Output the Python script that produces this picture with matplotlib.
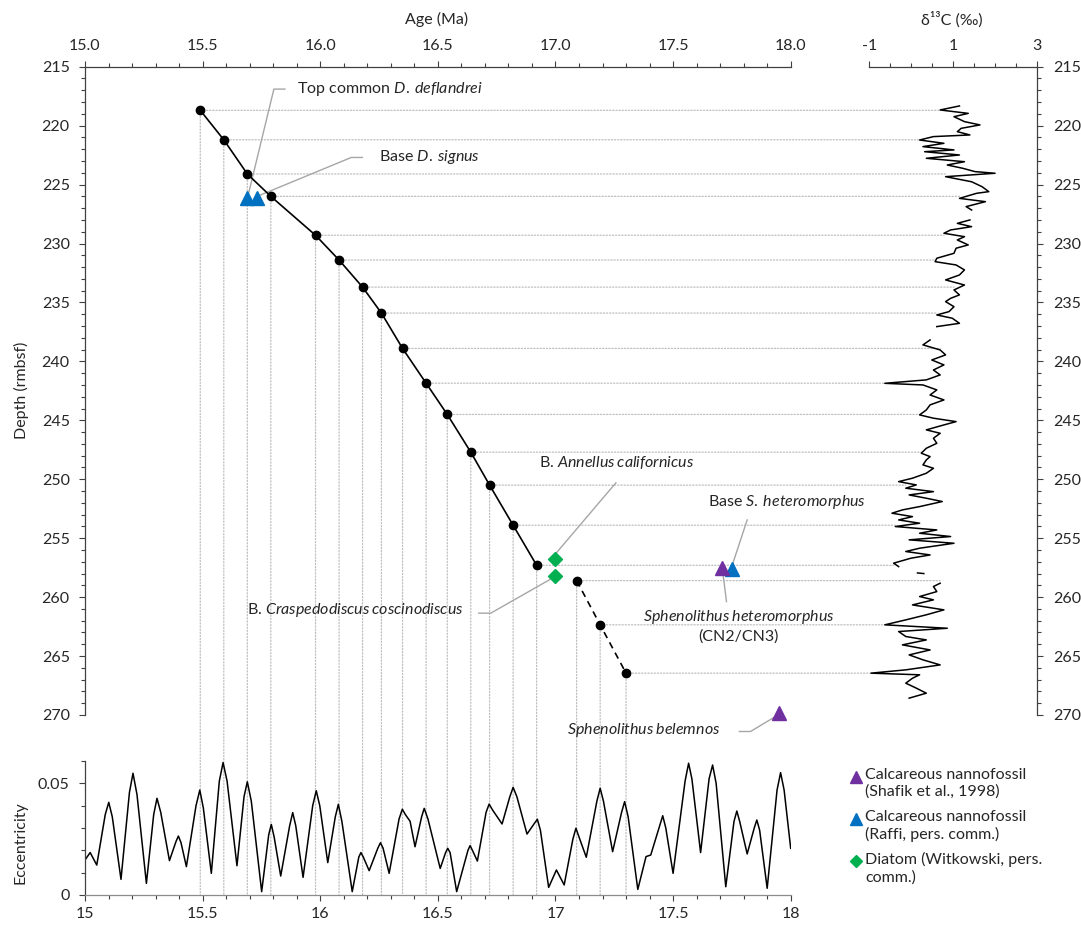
#! /usr/bin/env python3

import matplotlib.pyplot as plt
import numpy as np
from matplotlib.patches import ConnectionPatch
from matplotlib.lines import Line2D
from matplotlib.ticker import MultipleLocator, FixedLocator, FormatStrFormatter

plt.rcParams['font.family'] = ['Lato', 'DejaVu Sans']
plt.rcParams['mathtext.fontset'] = 'custom'
plt.rcParams['mathtext.rm'] = 'Lato'
plt.rcParams['mathtext.it'] = 'Lato:italic'
plt.rcParams['text.color'] = '#262626'
FS = 11.5

# age-depth tie points (Ma, rmbsf)
tie_age = [15.49, 15.59, 15.69, 15.79, 15.98, 16.08, 16.18, 16.26, 16.35, 16.45,
           16.54, 16.64, 16.72, 16.82, 16.92, 17.09, 17.19, 17.30]
tie_depth = [218.7, 221.2, 224.1, 226.0, 229.3, 231.4, 233.7, 235.9, 238.9, 241.85,
             244.5, 247.7, 250.5, 253.9, 257.3, 258.6, 262.35, 266.45]
n_solid = 15

# biostratigraphic events
shafik_age = [17.71, 17.95]
shafik_depth = [257.5, 269.8]
raffi_age = [15.69, 15.73, 17.75]
raffi_depth = [226.1, 226.1, 257.6]
diatom_age = [17.0, 17.0]
diatom_depth = [256.8, 258.2]

# bulk carbon isotopes, nan marks core gaps
d13c_depth = [218.33, 218.67, 218.96, 219.24, 219.66, 219.94, 220.23, 220.51, 220.79, 220.93,
              221.22, 221.5, 221.78, 222.06, 222.21, 222.49, 222.77, 223.06, 223.34, 223.62,
              223.9, 224.04, 224.33, 224.76, 225.18, 225.6, 225.74, 226.17, 226.45, 226.87,
              227.16, 227.5,
              228.0, 228.29, 228.57, 228.85, 229.13, 229.42, 229.7, 230.12, 230.4, 230.83,
              231.25, 231.54, 231.82, 232.24, 232.67, 233.09, 233.52, 233.94, 234.36, 234.65,
              234.93, 235.36, 235.78, 236.06, 236.34, 236.77, 237.05, 237.5,
              238.18, 238.6, 239.03, 239.45, 239.88, 240.3, 240.73, 241.15, 241.57, 241.86,
              242.0, 242.42, 242.85, 243.27, 243.69, 244.12, 244.54, 244.82, 245.11, 245.39,
              245.81, 246.1, 246.52, 246.95, 247.37, 247.79, 248.08, 248.36, 248.78, 249.07,
              249.49, 249.91, 250.2, 250.48, 250.76, 251.05, 251.33, 251.61, 251.89, 252.32,
              252.6, 252.88, 253.17, 253.45, 253.73, 254.01, 254.3, 254.58, 254.86, 255.14,
              255.43, 255.85, 256.13, 256.42, 256.7, 257.12, 257.41, 257.6,
              257.95, 258.0, 258.2,
              258.82, 259.1, 259.53, 259.95, 260.23, 260.66, 261.08, 261.5, 261.93, 262.35,
              262.64, 262.92, 263.34, 263.63, 264.05, 264.48, 264.9, 265.32, 265.75, 266.17,
              266.45, 266.59, 266.88, 267.3, 267.72, 268.15, 268.57]
d13c_value = [1.15, 0.69, 1.36, 1.02, 1.27, 1.64, 1.19, 1.10, 1.40, 0.53,
              0.20, 0.78, 0.28, 1.02, 0.32, 1.15, 0.36, 1.27, 0.86, 1.23,
              1.52, 2.00, 0.82, 1.44, 1.69, 1.85, 1.56, 1.15, 1.77, 1.31,
              1.44, np.nan,
              1.40, 1.10, 1.44, 0.94, 0.78, 1.27, 1.10, 1.36, 1.07, 1.02,
              0.61, 0.57, 1.07, 1.27, 1.15, 0.82, 1.27, 1.02, 1.15, 0.94,
              0.82, 1.02, 0.90, 0.61, 0.98, 1.15, 0.61, np.nan,
              0.45, 0.28, 0.69, 0.82, 0.49, 0.78, 0.53, 0.69, 0.36, -0.63,
              0.28, 0.61, 0.45, 0.78, 0.45, 0.36, 0.20, 0.53, 1.07, 0.78,
              0.36, 0.69, 0.53, 0.61, 0.36, 0.24, 0.45, 0.36, 0.28, 0.53,
              0.36, 0.03, -0.30, 0.12, -0.13, 0.53, -0.05, 0.36, 0.74, 0.20,
              -0.21, -0.46, 0.03, -0.30, 0.20, -0.38, 0.61, 0.20, 0.94, -0.05,
              1.02, 0.20, -0.13, 0.45, -0.01, -0.42, -0.30, np.nan,
              0.15, 0.30, np.nan,
              0.69, 0.53, 0.61, 0.20, 0.53, 0.03, 0.78, 0.36, -0.13, -0.63,
              0.86, -0.30, -0.13, 0.36, -0.21, 0.45, -0.05, 0.28, 0.69, -0.13,
              -0.96, 0.20, 0.03, -0.13, 0.12, 0.36, -0.05]

# orbital eccentricity solution
ecc_age = [15.0, 15.022, 15.05, 15.086, 15.101, 15.116, 15.153, 15.189, 15.204, 15.221,
           15.261, 15.292, 15.306, 15.322, 15.359, 15.387, 15.397, 15.408, 15.431, 15.472,
           15.488, 15.503, 15.537, 15.571, 15.587, 15.604, 15.646, 15.676, 15.69, 15.707,
           15.751, 15.781, 15.792, 15.804, 15.832, 15.870, 15.883, 15.896, 15.927, 15.968,
           15.983, 15.998, 16.032, 16.064, 16.077, 16.092, 16.136, 16.164, 16.173, 16.183,
           16.208, 16.245, 16.256, 16.267, 16.293, 16.335, 16.349, 16.362, 16.382, 16.403,
           16.431, 16.442, 16.458, 16.51, 16.533, 16.542, 16.552, 16.58, 16.628, 16.637,
           16.647, 16.668, 16.705, 16.718, 16.733, 16.773, 16.806, 16.82, 16.836, 16.879,
           16.91, 16.923, 16.936, 16.971, 17.004, 17.037, 17.074, 17.087, 17.1, 17.131,
           17.176, 17.19, 17.204, 17.243, 17.281, 17.294, 17.309, 17.35, 17.385, 17.405,
           17.443, 17.456, 17.469, 17.5, 17.551, 17.566, 17.58, 17.617, 17.653, 17.668,
           17.683, 17.724, 17.759, 17.771, 17.783, 17.815, 17.845, 17.856, 17.868, 17.9,
           17.942, 17.957, 17.972, 18.0]
ecc_value = [0.0157, 0.019, 0.0134, 0.036, 0.0415, 0.035, 0.007, 0.046, 0.0545, 0.045,
             0.0052, 0.036, 0.0433, 0.037, 0.0154, 0.024, 0.0264, 0.0235, 0.0127, 0.040,
             0.047, 0.039, 0.0097, 0.051, 0.0593, 0.051, 0.0131, 0.044, 0.0507, 0.042,
             0.0015, 0.027, 0.0316, 0.026, 0.0085, 0.031, 0.0369, 0.031, 0.0079, 0.040,
             0.0467, 0.040, 0.0145, 0.035, 0.0406, 0.033, 0.0015, 0.017, 0.019, 0.017,
             0.0109, 0.021, 0.0234, 0.021, 0.0097, 0.034, 0.0384, 0.036, 0.033, 0.0216,
             0.035, 0.0388, 0.034, 0.0119, 0.019, 0.0209, 0.019, 0.0015, 0.020, 0.0221,
             0.020, 0.0152, 0.037, 0.0407, 0.038, 0.0318, 0.044, 0.0482, 0.044, 0.0273,
             0.032, 0.0339, 0.029, 0.0034, 0.0112, 0.0045, 0.025, 0.0299, 0.026, 0.0169,
             0.042, 0.0478, 0.042, 0.0194, 0.037, 0.0418, 0.035, 0.0025, 0.0172, 0.0179,
             0.031, 0.0355, 0.030, 0.0097, 0.051, 0.059, 0.052, 0.019, 0.052, 0.0582,
             0.050, 0.0037, 0.033, 0.0376, 0.033, 0.0184, 0.030, 0.0336, 0.029, 0.003,
             0.047, 0.0548, 0.047, 0.0209]

purple = '#7030A0'
blue = '#0070C0'
green = '#00B050'
grid = '#BFBFBF'
leader = '#A6A6A6'
axis_col = '#404040'

W, H = 1081, 926
fig = plt.figure(figsize=(W / 100, H / 100), dpi=100)


def box(l, t, r, b):
    return [l / W, 1 - b / H, (r - l) / W, (b - t) / H]


ax = fig.add_axes(box(85, 66.7, 790.7, 715))
axc = fig.add_axes(box(869.3, 66.7, 1037, 715))
axe = fig.add_axes(box(85, 761, 790.7, 895))
for a in (ax, axc, axe):
    a.patch.set_visible(False)
    for s in a.spines.values():
        s.set_color(axis_col)
        s.set_linewidth(0.9)
    a.tick_params(which='both', direction='out', color=axis_col, labelcolor='#262626',
                  width=0.8, labelsize=FS)
    a.tick_params(which='major', length=4)
    a.tick_params(which='minor', length=3)

# age-depth plot
ax.set_xlim(15, 18)
ax.set_ylim(270, 215)
ax.xaxis.tick_top()
ax.spines[['right', 'bottom']].set_visible(False)
ax.xaxis.set_major_locator(MultipleLocator(0.5))
ax.xaxis.set_minor_locator(MultipleLocator(0.1))
ax.xaxis.set_major_formatter(FormatStrFormatter('%.1f'))
ax.yaxis.set_major_locator(MultipleLocator(5))
ax.yaxis.set_minor_locator(MultipleLocator(1))
ax.tick_params(axis='x', pad=6)
ax.tick_params(axis='y', pad=7)

ax.plot(tie_age[:n_solid], tie_depth[:n_solid], '-', color='black', lw=1.2, zorder=3)
ax.plot(tie_age[n_solid:], tie_depth[n_solid:], '--', color='black', lw=1.2,
        dashes=(4, 3), zorder=3)
ax.plot(tie_age, tie_depth, 'o', color='black', ms=6, zorder=4)

ax.plot(raffi_age, raffi_depth, '^', color=blue, ms=10, zorder=5, clip_on=False)
ax.plot(shafik_age, shafik_depth, '^', color=purple, ms=10, zorder=5, clip_on=False)
ax.plot(diatom_age, diatom_depth, 'D', color=green, ms=7, zorder=5, clip_on=False)

# leader lines and event names
notes = [
    ('Top common $\\mathit{D.\\:deflandrei}$', 15.90, 216.9, 'left',
     [(15.85, 216.9), (15.803, 216.9), (15.696, 225.7)]),
    ('Base $\\mathit{D.\\:signus}$', 16.249, 222.7, 'left',
     [(16.179, 222.7), (16.132, 222.7), (15.744, 225.9)]),
    ('B. $\\mathit{Annellus\\:californicus}$', 17.262, 248.6, 'center',
     [(17.257, 250.3), (16.993, 256.5)]),
    ('B. $\\mathit{Craspedodiscus\\:coscinodiscus}$', 16.608, 261.1, 'right',
     [(16.674, 261.36), (16.725, 261.36), (16.977, 258.5)]),
    ('Base $\\mathit{S.\\:heteromorphus}$', 17.649, 251.9, 'left',
     [(17.815, 253.45), (17.753, 257.2)]),
    ('$\\mathit{Sphenolithus\\:heteromorphus}$\n(CN2/CN3)', 17.778, 262.4, 'center',
     [(17.727, 260.38), (17.712, 258.0)]),
    ('$\\mathit{Sphenolithus\\:belemnos}$', 17.70, 271.3, 'right',
     [(17.782, 271.4), (17.829, 271.4), (17.946, 270.0)]),
]
for text, tx, ty, ha, path in notes:
    xs, ys = zip(*path)
    ax.plot(xs, ys, '-', color=leader, lw=1, zorder=2, clip_on=False)
    ax.text(tx, ty, text, ha=ha, va='center', fontsize=FS, linespacing=1.3,
            multialignment='center', zorder=6)

# carbon isotope panel
axc.set_xlim(-1, 3)
axc.set_ylim(270, 215)
axc.xaxis.tick_top()
axc.yaxis.tick_right()
axc.spines[['left', 'bottom']].set_visible(False)
axc.xaxis.set_major_locator(FixedLocator([-1, 1, 3]))
axc.xaxis.set_minor_locator(MultipleLocator(0.5))
axc.xaxis.set_major_formatter(FormatStrFormatter('%d'))
axc.yaxis.set_major_locator(MultipleLocator(5))
axc.yaxis.set_minor_locator(MultipleLocator(1))
axc.tick_params(axis='x', pad=6)
axc.tick_params(axis='y', pad=8)
axc.plot(d13c_value, d13c_depth, '-', color='black', lw=1.1)

# eccentricity panel
axe.set_xlim(15, 18)
axe.set_ylim(0, 0.06)
axe.spines[['right', 'top']].set_visible(False)
axe.spines['bottom'].set_color('#8C8C8C')
axe.xaxis.set_major_locator(MultipleLocator(0.5))
axe.xaxis.set_minor_locator(MultipleLocator(0.1))
axe.xaxis.set_major_formatter(lambda v, p: f'{v:g}')
axe.yaxis.set_major_locator(FixedLocator([0, 0.05]))
axe.yaxis.set_minor_locator(MultipleLocator(0.01))
axe.yaxis.set_major_formatter(lambda v, p: f'{v:g}')
axe.tick_params(axis='x', pad=5)
axe.tick_params(axis='y', pad=7)
axe.plot(ecc_age, ecc_value, '-', color='black', lw=1.1)

# dotted ties: across to the isotope curve, down to the eccentricity axis
dv = np.array(d13c_value)
dd = np.array(d13c_depth)
for a, d in zip(tie_age, tie_depth):
    near = (np.abs(dd - d) <= 0.3) & ~np.isnan(dv)
    xend = dv[near].min() if near.any() else -1
    for xyB, axB in (((xend, d), axc), ((a, 0), axe)):
        con = ConnectionPatch(xyA=(a, d), coordsA=ax.transData, xyB=xyB, coordsB=axB.transData,
                              color=grid, lw=0.9, ls=(0, (1, 1.5)), zorder=-1)
        fig.add_artist(con)

fig.text(437 / W, 1 - 19 / H, 'Age (Ma)', ha='center', va='center', fontsize=FS)
fig.text(952 / W, 1 - 20 / H, 'δ¹³C (‰)', ha='center', va='center', fontsize=FS)
fig.text(21 / W, 1 - 390 / H, 'Depth (rmbsf)', ha='center', va='center', rotation=90,
         fontsize=FS)
fig.text(21 / W, 1 - 843 / H, 'Eccentricity', ha='center', va='center', rotation=90,
         fontsize=FS)

# key, marker beside the first line of each entry
keys = [('^', purple, 9, 'Calcareous nannofossil\n(Shafik et al., 1998)', 777),
        ('^', blue, 9, 'Calcareous nannofossil\n(Raffi, pers. comm.)', 819),
        ('D', green, 6, 'Diatom (Witkowski, pers.\ncomm.)', 861)]
for mk, col, ms, lab, ypx in keys:
    fig.add_artist(Line2D([856 / W], [1 - ypx / H], transform=fig.transFigure,
                          ls='none', marker=mk, color=col, ms=ms))
    fig.text(865 / W, 1 - (ypx - 9) / H, lab, ha='left', va='top', fontsize=FS,
             linespacing=1.25)

fig.savefig('out.png', dpi=100)
